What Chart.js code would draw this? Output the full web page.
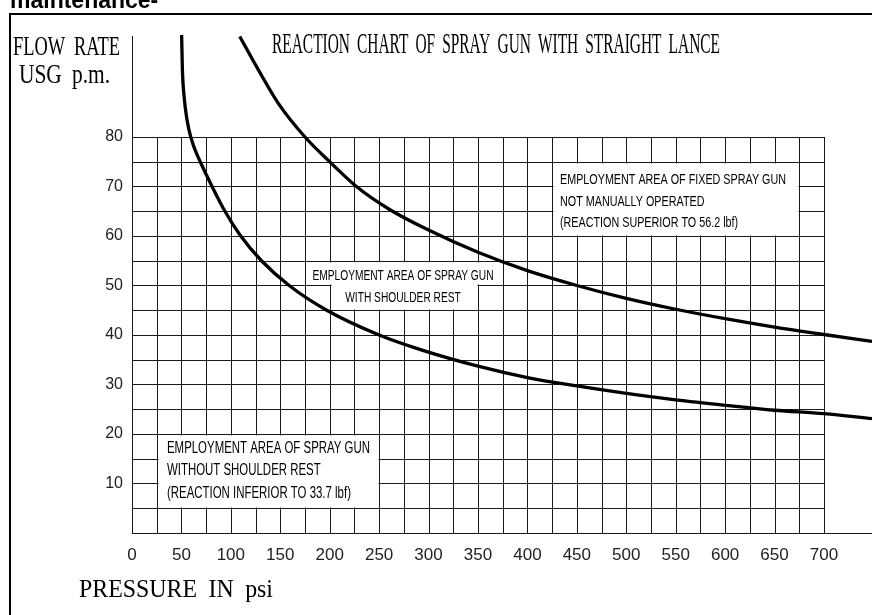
<!DOCTYPE html>
<html lang="en">
<head>
<meta charset="utf-8" />
<title>Reaction chart of spray gun</title>
<script src="https://cdn.jsdelivr.net/npm/chart.js@4.4.1/dist/chart.umd.min.js"></script>
<style>
  body { margin: 0; background: #fff; }
  canvas { display: block; }
</style>
</head>
<body>
<canvas id="myChart" width="872" height="615"></canvas>
<script>
// curve with shoulder rest limit (33.7 lbf) - pressure psi / flow USG p.m.
const lowPressure = [50.2, 51, 52.8, 55, 57.5, 60.5, 64, 69, 81, 94, 110, 131, 159, 197, 250, 291, 350, 400, 450, 500, 550, 600, 650, 700, 748.6];
const lowFlow     = [100.6, 93.5, 88, 84.3, 81.6, 79.3, 77.3, 75, 70, 65, 60, 55, 50, 45, 40, 37.1, 33.7, 31.4, 29.7, 28.2, 26.9, 25.8, 24.8, 24.1, 23.1];
// fixed spray gun limit (56.2 lbf)
const highPressure = [109, 128, 148, 175, 200, 227, 261, 300, 350, 400, 450, 500, 550, 600, 650, 700, 748.6];
const highFlow     = [100.3, 93.5, 86.8, 80, 75, 70, 65.3, 61.2, 56.7, 53, 50, 47.4, 45.2, 43.3, 41.6, 40.1, 38.7];

const xTicks = [0, 50, 100, 150, 200, 250, 300, 350, 400, 450, 500, 550, 600, 650, 700];
const yTicks = [10, 20, 30, 40, 50, 60, 70, 80];

const noteFixed = ["EMPLOYMENT AREA OF FIXED SPRAY GUN", "NOT MANUALLY OPERATED", "(REACTION SUPERIOR TO 56.2 lbf)"];
const noteShoulder = ["EMPLOYMENT AREA OF SPRAY GUN", "WITH SHOULDER REST"];
const noteNoShoulder = ["EMPLOYMENT AREA OF SPRAY GUN", "WITHOUT SHOULDER REST", "(REACTION INFERIOR TO 33.7 lbf)"];

const serif = "'Liberation Serif', 'DejaVu Serif', serif";
const sans = "'Liberation Sans', Arial, sans-serif";

// draw text squeezed horizontally to a given width (cad style lettering)
function squeeze(ctx, txt, x, y, font, width, align) {
  ctx.save();
  ctx.font = font;
  const sx = width / ctx.measureText(txt).width;
  ctx.translate(x, y);
  ctx.scale(sx, 1);
  ctx.textAlign = align || "left";
  ctx.textBaseline = "alphabetic";
  ctx.fillText(txt, 0, 0);
  ctx.restore();
}

function note(ctx, lines, x, ys, font, firstWidth, align) {
  ctx.save();
  ctx.font = font;
  const sx = firstWidth / ctx.measureText(lines[0]).width;
  ctx.textAlign = align;
  lines.forEach(function (t, i) {
    ctx.save();
    ctx.translate(x, ys[i]);
    ctx.scale(sx, 1);
    ctx.fillText(t, 0, 0);
    ctx.restore();
  });
  ctx.restore();
}

const paper = {
  id: "paper",
  beforeDatasetsDraw(chart) {
    const { ctx, scales: { x, y } } = chart;
    ctx.save();
    ctx.strokeStyle = "#1a1a1a";
    ctx.lineWidth = 1;
    ctx.beginPath();
    for (let p = 0; p <= 700; p += 25) {
      const px = Math.round(x.getPixelForValue(p)) + 0.5;
      ctx.moveTo(px, y.getPixelForValue(0));
      ctx.lineTo(px, y.getPixelForValue(80));
    }
    for (let q = 5; q <= 80; q += 5) {
      const py = Math.round(y.getPixelForValue(q)) + 0.5;
      ctx.moveTo(x.getPixelForValue(0), py);
      ctx.lineTo(x.getPixelForValue(700) + 1, py);
    }
    ctx.stroke();
    // blank cells behind the notes
    ctx.fillStyle = "#fff";
    function blank(p1, p2, q1, q2) {
      const x1 = Math.round(x.getPixelForValue(p1)) + 1.5;
      const x2 = Math.round(x.getPixelForValue(p2)) - 0.5;
      const y1 = Math.round(y.getPixelForValue(q2)) + 1.5;
      const y2 = Math.round(y.getPixelForValue(q1)) - 0.5;
      ctx.fillRect(x1, y1, x2 - x1, y2 - y1);
    }
    blank(425, 675, 60, 75);
    blank(175, 375, 50, 55);
    blank(200, 350, 45, 55);
    blank(25, 250, 5, 20);
    ctx.restore();
  },
  afterDraw(chart) {
    const ctx = chart.ctx;
    ctx.save();
    ctx.fillStyle = "#000";
    // frame
    ctx.fillRect(9, 13, 863, 2);
    ctx.fillRect(9, 13, 2, 602);
    // clipped caption above the frame
    ctx.font = "bold 23px " + sans;
    ctx.fillText("maintenance-", 10, 8);
    ctx.wordSpacing = "6px";
    squeeze(ctx, "FLOW RATE", 13, 55, "27px " + serif, 107);
    squeeze(ctx, "USG p.m.", 19, 83, "27px " + serif, 91);
    squeeze(ctx, "REACTION CHART OF SPRAY GUN WITH STRAIGHT LANCE", 272, 53, "29px " + serif, 448);
    squeeze(ctx, "PRESSURE IN psi", 79, 597, "26px " + serif, 194);
    ctx.wordSpacing = "0px";
    note(ctx, noteFixed, 560, [184, 206, 227], "15px " + sans, 226, "left");
    note(ctx, noteShoulder, 403, [280, 302], "15px " + sans, 181, "center");
    note(ctx, noteNoShoulder, 167, [453, 475, 498], "16px " + sans, 203, "left");
    ctx.restore();
  }
};

function curve(px, qy) {
  return px.map(function (p, i) { return { x: p, y: qy[i] }; });
}

new Chart(document.getElementById("myChart"), {
  type: "line",
  data: {
    datasets: [
      {
        label: "33.7 lbf",
        data: curve(lowPressure, lowFlow),
        borderColor: "#000",
        borderWidth: 3.3,
        pointRadius: 0,
        cubicInterpolationMode: "monotone",
        clip: false
      },
      {
        label: "56.2 lbf",
        data: curve(highPressure, highFlow),
        borderColor: "#000",
        borderWidth: 3.3,
        pointRadius: 0,
        cubicInterpolationMode: "monotone",
        clip: false
      }
    ]
  },
  options: {
    responsive: false,
    animation: false,
    layout: { padding: { top: 36.5, left: 0, right: 0, bottom: 0 } },
    plugins: { legend: { display: false }, tooltip: { enabled: false } },
    scales: {
      x: {
        type: "linear",
        min: 0,
        max: 748.6,
        grid: { color: "rgba(0,0,0,0)", drawTicks: false },
        border: { display: true, color: "#1a1a1a", width: 1 },
        afterBuildTicks: function (s) { s.ticks = xTicks.map(function (v) { return { value: v }; }); },
        afterFit: function (s) { s.height = 82; },
        ticks: { color: "#222", font: { family: sans, size: 17 }, padding: 12, maxRotation: 0, autoSkip: false }
      },
      y: {
        min: 0,
        max: 100.3,
        grid: { color: "rgba(0,0,0,0)", drawTicks: false },
        border: { display: true, color: "#1a1a1a", width: 1 },
        afterBuildTicks: function (s) { s.ticks = yTicks.map(function (v) { return { value: v }; }); },
        afterFit: function (s) { s.width = 132; },
        ticks: { color: "#222", font: { family: sans, size: 16 }, padding: 9, autoSkip: false }
      }
    }
  },
  plugins: [paper]
});
</script>
</body>
</html>
